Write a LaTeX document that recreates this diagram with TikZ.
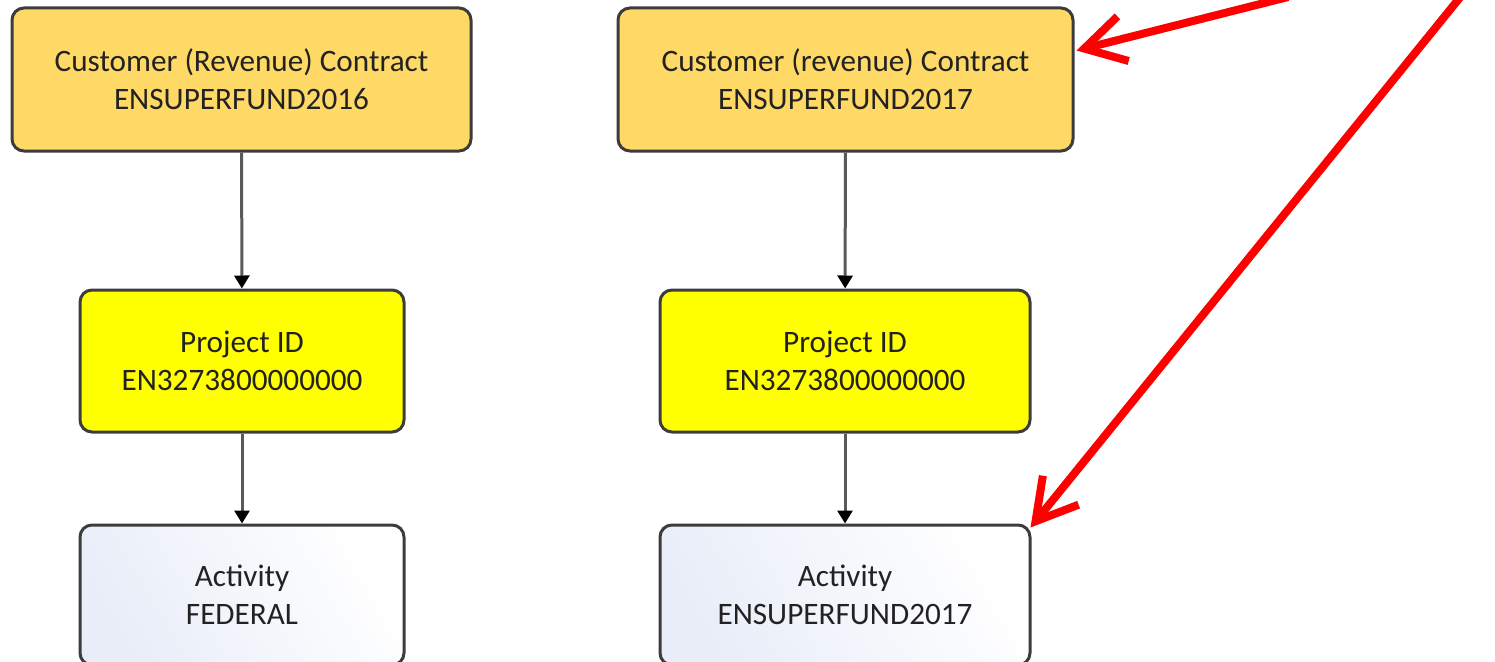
\documentclass[tikz,border=0pt]{standalone}
\usepackage{fontspec}
\setmainfont{Carlito}
\usetikzlibrary{arrows.meta,calc}
\definecolor{bordergray}{HTML}{3C3C3C}
\definecolor{linkgray}{HTML}{5A5A5A}
\definecolor{contractfill}{HTML}{FFD966}
\definecolor{projectfill}{HTML}{FFFF00}
\definecolor{activityfill}{HTML}{E8EDF8}
\definecolor{textdark}{HTML}{222222}
\tikzset{
  box/.style={draw=bordergray, line width=3pt, rounded corners=12pt, align=center,
    text=textdark, font=\fontsize{31.2}{38}\selectfont, inner sep=0pt},
  contract/.style={box, fill=contractfill, minimum height=143pt},
  project/.style={box, fill=projectfill, minimum height=142pt},
  activity/.style={box, left color=activityfill, right color=white, shading angle=120, minimum height=140pt},
  link/.style={draw=linkgray, line width=3pt, -{Triangle[length=13pt,width=15pt,fill=black,color=black]}},
  redarrow/.style={draw=red, line width=8pt, -{Straight Barb[length=40pt,width=46pt]}},
}
\begin{document}
\begin{tikzpicture}[x=1pt,y=-1pt]
\useasboundingbox (0,0) rectangle (1495,661);
\clip (0,0) rectangle (1495,661);
\node[contract, minimum width=459pt] (TL) at (241.5,79.5) {Customer (Revenue) Contract\\ENSUPERFUND2016};
\node[contract, minimum width=455pt] (TR) at (845.5,79.5) {Customer (revenue) Contract\\ENSUPERFUND2017};
\node[project, minimum width=324pt] (ML) at (242,361) {Project ID\\EN3273800000000};
\node[project, minimum width=370pt] (MR) at (845,361) {Project ID\\EN3273800000000};
\node[activity, minimum width=324pt] (BL) at (242,595) {Activity\\FEDERAL};
\node[activity, minimum width=370pt] (BR) at (845,595) {Activity\\ENSUPERFUND2017};
\draw[link] (TL) -- (ML);
\draw[link] (ML) -- (BL);
\draw[link] (TR) -- (MR);
\draw[link] (MR) -- (BR);
\coordinate (r1) at (1288,-3);
\coordinate (r2) at (1462,-5);
\draw[redarrow] (r1) -- ([yshift=29pt,xshift=2pt]TR.east);
\draw[redarrow] (r2) -- ([xshift=-1pt,yshift=-4pt]BR.north east);
\end{tikzpicture}
\end{document}
